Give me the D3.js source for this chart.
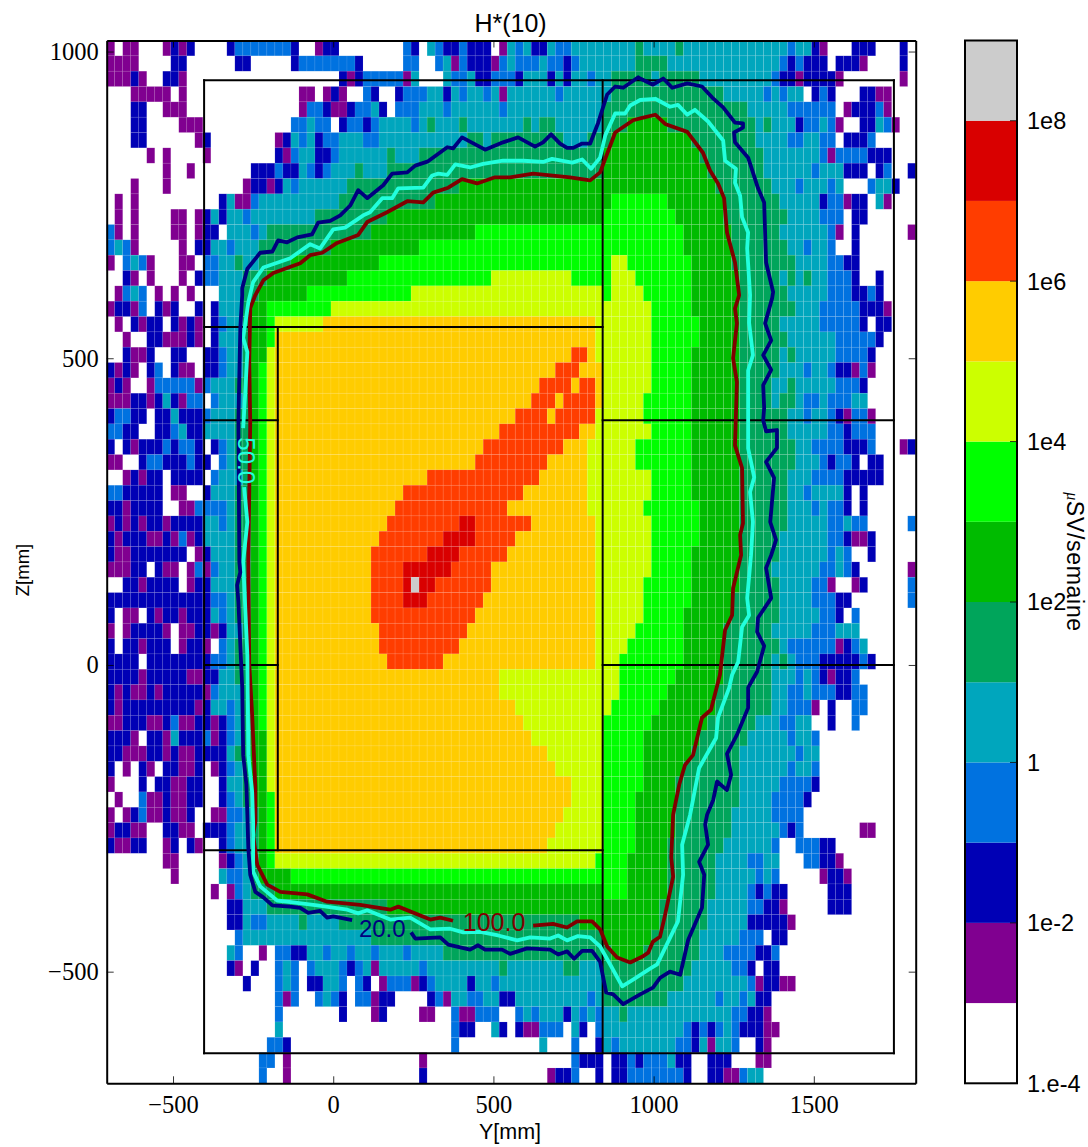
<!DOCTYPE html>
<html><head><meta charset="utf-8">
<style>html,body{margin:0;padding:0;background:#fff}svg{display:block}text{fill:#000}</style>
<script src="https://cdn.jsdelivr.net/npm/d3@7/dist/d3.min.js"></script></head><body>
<svg id="c" width="1088" height="1147"></svg>
<script>
// level codes: one decade per letter, from 1e-4 upwards
const levelCodes = ".pdbtsglyaorw";
const levelColors = ["#ffffff","#800090","#0000b5","#0072e0","#00a6bd","#00a55b","#00bb00","#00ff00","#ccff00","#ffcc00","#ff3d00","#d90000","#cccccc"];
const decadeEdges = [1e-3,1e-2,1e-1,1,1e1,1e2,1e3,1e4,1e5,1e6,1e7,1e8];
const colorbarTicks = [1e-4,1e-2,1,1e2,1e4,1e6,1e8];
const colorbarLabels = ["1.e-4","1e-2","1","1e2","1e4","1e6","1e8"];
const xTicks = [-500,0,500,1000,1500];
const yTicks = [-500,0,500,1000];
// run-length coded rows of the dose map, top row first, 25 mm bins
const doseRows = [
"p . 2p 3. p d p d 4. d 7b d 2. p 2d 8. b d . t b 2d b 3d . p t b t 2d t 2b 8t s 4t s 13t b 2t d p 3. 3d 3. d .",
"4p 4. 2d 6. 2d 5. d 7b d 5. 2b 2. b t p b 3d p b t 3b t 2b d b 7t 4s 14t b d b 3d . 3d p 4. d .",
"3p d p 2. 2d p 19. d p d 5b p t 3. t 2b t 2d 3b d 3t d t d 2t b 2t 5s t 5s 9t b 2d p 4d p 7. p .",
"3. 5p . p 14. 2p . p d p 2. b d 2. d 3b 2t d t b 2t b t p 6t b 6t 14s 5t b t b 2t . d b d 3. 2d 2p 3.",
"3. 2d 2. 3p 14. p 2b d 2p d 2b t d . 3b 3t b 6t b 12t 18s 5t 6b . p 3d b p 3.",
"3. 2d 4. 3p 11. 2b t 2b . d 2b d b 4t b t s 3t s 7t s t 2s 6t 3s 5g 11s t s 3t d 2b t b p 2. 2d t b p 2.",
"3. 2d 6. p d 8. p d t b t d 2b 3t 2b 11t 2s t 9s 3t 3s 10g 8s 4t 2b 2t 2b . 3d b 5.",
"5. p . p 4. p 8. d p b 2t 2d b 6t s 3t 23s 12g 8s 7t b p 4b 3d 3.",
"7. p 2. p 7. 3d b 2d t b d b 3t s 3t 27s 13g 7s 6t b 3t 3d . d b 2. d",
"3. p 3. p 9. p 2d p d t b 6t 14s 32g 7s 3t b 3t b t 3. b 2t d 2.",
". p . p 10. d t 2p b 10t 12s 22g 7l 7g 7s 5t d 2b p 2d . t p 3.",
". p . p 4. 2p . p d t d 2t b 8t 9s 27g 9l 6g 8s 4t 3b . 2d 6.",
"b p . p 4. 2p . p 2d . 3t b t 13s 13g 26l 6g 6s 6t b p . d 6. p",
"b t b p 5. p . 2d 2t b 3t 9s 11g 33l 6g 7s 2t b 2t b 2. d 7.",
"p . b t b p 3. 2p . 2b 2t s 2t 4s 11g 29l 2y 8l 5g 8s 4t 2b 2d 7.",
"2. d p . p 3. p . d 2b 3t 3s 10g 18l 10y 5l 3y 7l 6g 5s t s t s 2t 3b d 2. d 4.",
". p b t b . p . p . p 3. 3t 2s 6g 13l 24y l 4y 6l 6g 6s 5t 3b 2d b d 4.",
"p 2d p b . d p d 2. d . d 3t s 2g 8l 40y 5l 6g 7s 3t 5b 3d p 3.",
". p . d p 2d . d p d p . d b 2t s 2g l 6y 34a 7y 6l 5g 5s 5t 5b d . 2d 3.",
"2. p 2. 2d 3p d p . d 3t s 2g l 40a 7y 6l 5g 6s 6t 5b d 4.",
"2. d 2p d 2. 2d 2. 2d b 2t s 2g y 37a 2o a 7y 5l 6g 5s t s 5t 4b d 5.",
"d p d p . d b . d 2p . 2d b 2t s g l y 35a 3o 3a 6y 5l 6g 5s 3t b 2t b 2d p b p 5.",
"p d p 2. p 5b p b 3t 2s g l y 33a 4o a 2o a 6y 5l 6g 4s 2t s 5t 3b d 6.",
"3p 2d p d t d p 2b . b 3t s g l y 32a 3o a 4o a 5y 6l 6g 4s t 2s t 2b t 3b 2t 6.",
"d 2b 2d . 2d t 3d b 3t 2s g l y 30a 4o a 5o 6y 6l 6g 6s 2t b 2t b d p 2b p 5.",
"2b 2d 2. 2d b t 2d 4t 2s g l y 28a 10o 2a 7y 5l 6g 6s 5t 2b d 3b 5.",
"d . d p 3d b d 2b d . d b t 2s g l y 26a 10o 3a 6y 7l 6g 7s 2t 2b 2b 3d b 3. p d",
"2p 2. d 2b 3d b d d . b t 2s g l y 25a 9o 5a 6y 7l 6g 7s 3t b d 2b d . 2d 4.",
"2. p d p 2d . 4d . b 3t s g l y 19a 14o 6a 8y 5l 6g 6s 3t 4b 5d 4.",
"2b 5d . 2p 2. d 3t 2s g l y 16a 15o 8a 8y 5l 6g 6s 2t b 4t d . d 6.",
"2d p 4d 2. 2p 4b t 2s g l y 15a 14o 10a 7y 7l 5g 6s 3t b t 2b d . d 6.",
"p d p d p 2d p 4d 2t b t 2s g l y 14a 9o 2r 7o 8a 7y 6l 5g 6s 5t 2b t 2b 5. b",
"d p 3d 2p d p b p d 4t 2s g l y 13a 8o 4r 5o 10a 7y 6l 5g 5s 6t 2b d 2p d 5.",
"d 2p 7d . p d 3t 2s g l y 12a 7o 4r 6o 11a 7y 5l 6g 5s 6t b t b 2. d 5.",
"3p 2d . d 2p . p b p b 2t 2s g l y 12a 4o 6r 5o 13a 7y 5l 6g 4s 6t 2b t b d 6. p",
"2. 2d p 4d . p 2d 3t 2s g l y 12a 4o r w 2r 7o 13a 6y 6l 6g 5s 4t 2b p 2. p d 5. b",
"13d 2b t 2s g l y 12a 4o 3r 7o 14a 6y 6l 5g 6s 4t 3b 2d 7. b",
"d . 2p . d p 2d p 3d t b t 2s g l y 12a 13o 15a 6y 5l 6g 6s 5t 2b d . b 7.",
"p . p 4d p . 2p 2d p d 2t s g l y 13a 11o 16a 5y 6l 5g 6s 5t 3b 3t 7.",
"d . 2d p 3d . p 2d p . b t 2s g l y 13a 10o 17a 4y 7l 5g 7s t 6b p d b t 6.",
"4d . 8d 2b t 2s g l y 14a 7o 19a 3y 8l 5g 6s t s t 3b 5d b d 5.",
"4d p 5d 2p 2d 2t 2s g l y 28a 15y 7l 6g 6s 3t b t b d p 2d b 7.",
"d p d 2p d p 5d p b 3t s g l y 28a 15y 6l 6g 7s 2t 2b t 3b 2d 2b 6.",
"d p 9d p d 2t b t s g l y 30a 12y 6l 7g 7s 2t 3b p . d 2. 2b 6.",
"2p 3d 2p d b 2p 2d p d b t s g l y 31a 10y 6l 7g 6s 3t 2b 2t 2. d 2. b 7.",
"3d p . 2d p t 3d b p d b t s 2g y 32a 9y 5l 7g 6s 5t b 2t b 12.",
"2d 3p 2d p d 2p 4d t 2s 2g y 34a 7y 5l 6g 6s 7t b 2t 12.",
"d . p . d p . 2d 2p d . p d b t s 2g y 35a 6y 5l 5g 7s 6t b 2t b 12.",
"p 3. d . 2d 2p 2d 2. d 2t s 2g y 37a 4y 5l 4g 8s 5t 4b d 12.",
". p 2. b 2p d 2p 2d 2. d b t s 2g l 37a 4y 4l 5g 8s 4t 4b d 13.",
"p . p d b 2p d 2p d 2. 2p 2b t s g l 36a 5y 4l 5g 7s 5t 4b 14.",
"p 2d 2p 2. 2d 2p . 3d b 2t s g l 35a 6y 4l 5g 7s 6t b d b 7. 2p 5.",
"d 2p 2d 2. p d . d p 2. d b 2t s g l 34a 7y 4l 4g 7s 6t b 2. 3b 2d 10.",
"7. 2p 5. p d b t s g l 40y 4l 5g 6s 4t 2b 2t 3. 2b 2d p 9.",
"8. p 5. t 2b t s 4g 42l 5g 6s 5t b t b 5. p 2d p 8.",
"13. p . p b t 3s 41g 3l 5g 6s 4t b d b 2d 5. 3d 8.",
"15. 2d 3t 15s 34g 6s 5t 2b 2d p 5. 3d 8.",
"15. 2d t 2b 4t s 4t 30s 10g 6s 5t 5d p 15.",
"16. b 16t 29s 6g 6s 5t 3b . 2d 16.",
"15. t b 2. p . 2b 2d 2t b 2t b 2t b 3t b 4t 21s 4g 7s 3t 4b 2d b 17.",
"15. d p . d 2. b t b . b 3t b d b t p 5t b 9t s 7t 2s 3t 11s 5t 2b d . 2d 17.",
"17. d 3. b t b . 2d 2t b . b d . p 3b p d b 4t d 2t b 13t 10s 8t b p 2d 2p 15.",
"21. b p b 2. b t b d . 2b p 2d 4. d b p 2t 2b 2t 2d 9t b t 8s 6t b 2t b t 2d 18.",
"21. b 7. d 3. p d 4. 2p 2. b 2p 3b 2. b t b 3t d t b t b 2t s 13t 2b 2d p 18.",
"21. t 21. b 2d 2. t d . d 2p 3b . t d . b 10t b d b d b t b 3d 2p 17.",
"20. 2b d 20. b 10. t 3. b 2. d t b 7t 2b d t p 2t b 2. d p 18.",
"19. 2b . p 16. p 18. b 3d . 2d b d 3b t 2d 2. 3d 3. 2p 18.",
"19. b 2. p 16. d 15. p 2d b 2. d . 2d 7b d 2. 2d 2p b 2t 19."
];
// geometry frames, [Y1,Z1,Y2,Z2] in mm
const frameLines = [[-403,953,1750,953],[-403,-633,1750,-633],[-403,953,-403,-633],[1750,953,1750,-633],[841,953,841,-633],
[-403,551,841,551],[-173,551,-173,-302],[-403,-302,841,-302],[-403,399,-173,399],[841,399,1750,399],[-403,0,-173,0],[841,0,1750,0]];
const contour20 = [[59,-416],[0,-410],[-19,-412],[-41,-401],[-78,-404],[-103,-396],[-134,-394],[-190,-392],[-218,-379],[-243,-370],[-259,-342],[-265,-298],[-268,-244],[-271,-195],[-281,-147],[-284,-37],[-296,103],[-300,130],[-290,151],[-293,168],[-296,396],[-290,549],[-284,603],[-284,614],[-268,646],[-228,672],[-190,674],[-172,692],[-144,689],[-112,697],[-66,702],[-47,721],[-9,724],[22,733],[53,749],[78,774],[106,761],[156,782],[184,801],[231,803],[256,814],[296,821],[356,844],[374,842],[402,860],[474,840],[530,852],[577,860],[630,845],[655,852],[680,865],[708,850],[730,843],[749,843],[777,850],[802,850],[827,884],[855,930],[880,943],[905,941],[952,958],[958,956],[998,946],[1030,956],[1058,941],[1105,948],[1151,943],[1183,925],[1217,909],[1254,884],[1279,883],[1279,876],[1251,868],[1254,852],[1295,827],[1326,777],[1345,754],[1351,656],[1373,608],[1370,598],[1348,557],[1367,529],[1342,505],[1367,481],[1342,456],[1345,419],[1342,399],[1351,381],[1385,383],[1385,354],[1351,331],[1376,305],[1364,233],[1382,204],[1367,179],[1351,158],[1367,109],[1326,77],[1323,54],[1345,31],[1323,-11],[1295,-37],[1295,-70],[1260,-114],[1229,-145],[1242,-179],[1229,-204],[1198,-190],[1186,-220],[1167,-244],[1161,-260],[1170,-293],[1142,-321],[1158,-342],[1151,-396],[1108,-448],[1083,-505],[1051,-500],[1020,-510],[998,-526],[958,-537],[905,-553],[874,-537],[852,-534],[833,-484],[808,-466],[777,-466],[752,-479],[730,-467],[702,-472],[677,-464],[605,-462],[552,-471],[527,-464],[474,-464],[452,-457],[427,-464],[359,-456],[334,-444],[256,-446],[243,-436]];
const contour50 = [[-278,290],[-268,233],[-281,168],[-268,16],[-265,-147],[-253,-207],[-250,-256],[-250,-337],[-228,-361],[-175,-384],[-125,-387],[-50,-392],[44,-399],[78,-405],[106,-400],[178,-415],[240,-412],[303,-431],[365,-430],[406,-436],[459,-435],[515,-441],[574,-449],[615,-444],[677,-446],[702,-441],[730,-449],[764,-442],[802,-444],[833,-459],[864,-488],[902,-524],[936,-513],[989,-495],[1011,-488],[1076,-418],[1092,-342],[1089,-293],[1114,-244],[1142,-168],[1195,-119],[1201,-86],[1236,-37],[1245,-16],[1264,5],[1276,62],[1298,81],[1292,109],[1304,179],[1310,233],[1301,282],[1314,306],[1295,353],[1295,480],[1310,505],[1298,558],[1301,603],[1292,679],[1295,705],[1276,730],[1270,765],[1254,786],[1257,809],[1223,822],[1217,855],[1170,886],[1129,905],[1105,897],[1076,913],[1051,910],[1005,923],[958,921],[927,912],[911,899],[880,899],[849,863],[833,827],[805,809],[777,824],[746,819],[683,825],[655,820],[593,822],[530,822],[468,817],[427,811],[381,816],[356,799],[328,801],[309,798],[281,778],[203,777],[184,761],[153,761],[115,738],[94,733],[37,713],[0,710],[-41,679],[-72,686],[-134,663],[-218,648],[-250,624],[-265,591],[-281,533],[-268,510],[-275,440],[-281,386]];
const contour100 = [[624,-425],[686,-422],[730,-428],[761,-418],[808,-418],[833,-431],[855,-459],[886,-477],[927,-485],[967,-475],[983,-469],[998,-451],[1020,-443],[1036,-407],[1061,-345],[1055,-314],[1061,-244],[1080,-195],[1098,-163],[1123,-147],[1151,-86],[1179,-73],[1207,-16],[1223,57],[1245,81],[1248,125],[1273,179],[1270,212],[1279,231],[1276,321],[1254,358],[1260,461],[1248,500],[1260,557],[1254,581],[1267,603],[1254,656],[1229,705],[1220,761],[1201,785],[1176,806],[1154,835],[1105,869],[1036,882],[1005,897],[958,891],[936,888],[880,868],[833,803],[802,790],[739,795],[624,801],[552,795],[505,795],[449,785],[402,792],[359,778],[312,770],[281,754],[231,756],[168,738],[106,722],[78,701],[12,688],[-34,672],[-72,668],[-103,655],[-187,639],[-218,627],[-243,603],[-259,582],[-262,494],[-259,396],[-265,168],[-262,0],[-253,-81],[-243,-200],[-243,-256],[-250,-277],[-237,-326],[-206,-358],[-165,-370],[-81,-374],[-19,-386],[84,-391],[178,-399],[203,-394],[303,-415],[334,-412],[374,-417]];
const contourStyles = [[contour100,"#800000"],[contour50,"#22ffdd"],[contour20,"#00007f"]];

const svg = d3.select("#c");
const binSize = 25, yStart = -707, zTop = 1018;
const x = d3.scaleLinear().domain([yStart, yStart + 101*binSize]).range([106.7,915.7]);
const y = d3.scaleLinear().domain([zTop - 68*binSize, zTop]).range([1083.3,40.5]);
const color = d3.scaleThreshold().domain(decadeEdges).range(levelColors);
const decode = s => { const out=[]; for (const m of s.matchAll(/(\d*)([a-z.])/g)) { const n=+(m[1]||1); for(let i=0;i<n;i++) out.push(levelCodes.indexOf(m[2])); } return out; };
const cells = [];
doseRows.forEach((s,r)=>decode(s).slice(0,101).forEach((k,c)=>{ if(k>0) cells.push({r,c,v:Math.pow(10,k-3.5)}); }));
svg.append("g").selectAll("rect").data(cells).join("rect")
  .attr("x",d=>x(yStart+d.c*binSize)).attr("y",d=>y(zTop-d.r*binSize))
  .attr("width",x(binSize)-x(0)).attr("height",y(0)-y(binSize))
  .attr("fill",d=>color(d.v)).attr("stroke","#fff").attr("stroke-opacity",.14).attr("stroke-width",.6);

svg.append("g").selectAll("line").data(frameLines).join("line")
  .attr("x1",d=>x(d[0])).attr("y1",d=>y(d[1])).attr("x2",d=>x(d[2])).attr("y2",d=>y(d[3]))
  .attr("stroke","#000").attr("stroke-width",2).attr("stroke-linecap","square");

const line = d3.line().x(d=>x(d[0])).y(d=>y(d[1]));
svg.append("g").selectAll("path").data(contourStyles).join("path")
  .attr("d",d=>line(d[0])).attr("fill","none").attr("stroke",d=>d[1]).attr("stroke-width",3.8).attr("stroke-linejoin","round");

svg.append("text").attr("x",x(153)).attr("y",y(-430)).attr("dy","0.35em").attr("text-anchor","middle")
  .attr("font-family","Liberation Sans").attr("font-size",24).style("fill","#00007f").text("20.0");
svg.append("text").attr("x",x(502)).attr("y",y(-420)).attr("dy","0.35em").attr("text-anchor","middle")
  .attr("font-family","Liberation Sans").attr("font-size",25).style("fill","#800000").text("100.0");
svg.append("text").attr("transform",`translate(${x(-270)},${y(333)}) rotate(90)`).attr("dy","0.35em").attr("text-anchor","middle")
  .attr("font-family","Liberation Sans").attr("font-size",24).style("fill","#22ffdd").text("50.0");

// axes
const minus = d => (d<0?"\u2212":"")+Math.abs(d);
const styleAxis = g => { g.select(".domain").attr("stroke","#000").attr("stroke-width",2);
  g.selectAll(".tick line").attr("stroke","#000").attr("stroke-width",.8);
  g.selectAll("text").attr("font-family","Liberation Serif").attr("font-size",24.5); };
const x0=x.range()[0], x1=x.range()[1], y0=y.range()[1], y1=y.range()[0];
svg.append("g").attr("transform",`translate(0,${y1})`).call(d3.axisBottom(x).tickValues(xTicks).tickFormat(minus).tickSizeInner(-7).tickSizeOuter(0).tickPadding(12)).call(styleAxis);
svg.append("g").attr("transform",`translate(0,${y0})`).call(d3.axisTop(x).tickValues(xTicks).tickFormat("").tickSizeInner(-7).tickSizeOuter(0)).call(styleAxis);
svg.append("g").attr("transform",`translate(${x0},0)`).call(d3.axisLeft(y).tickValues(yTicks).tickFormat(minus).tickSizeInner(-7).tickSizeOuter(0).tickPadding(8)).call(styleAxis);
svg.append("g").attr("transform",`translate(${x1},0)`).call(d3.axisRight(y).tickValues(yTicks).tickFormat("").tickSizeInner(-7).tickSizeOuter(0)).call(styleAxis);

svg.append("text").attr("x",510.5).attr("y",32).attr("text-anchor","middle").attr("font-family","Liberation Sans").attr("font-size",25).text("H*(10)");
svg.append("text").attr("x",510).attr("y",1139).attr("text-anchor","middle").attr("font-family","Liberation Sans").attr("font-size",21.5).text("Y[mm]");
svg.append("text").attr("transform","translate(29,570) rotate(-90)").attr("text-anchor","middle").attr("font-family","Liberation Sans").attr("font-size",18.5).text("Z[mm]");

// colorbar
const cb = d3.scaleLog().domain([1e-4,1e9]).range([1083.3,40.5]);
const cbEdges = [1e-4,...decadeEdges,1e9];
svg.append("g").selectAll("rect").data(levelColors).join("rect")
  .attr("x",965).attr("width",52).attr("y",(d,i)=>cb(cbEdges[i+1])).attr("height",(d,i)=>cb(cbEdges[i])-cb(cbEdges[i+1])).attr("fill",d=>d);
svg.append("rect").attr("x",965).attr("y",40.5).attr("width",52).attr("height",1042.8).attr("fill","none").attr("stroke","#000").attr("stroke-width",2);
svg.append("g").selectAll("line").data(colorbarTicks).join("line").attr("x1",1010).attr("x2",1017).attr("y1",d=>cb(d)).attr("y2",d=>cb(d)).attr("stroke","#000").attr("stroke-width",.8);
svg.append("g").selectAll("text").data(colorbarTicks).join("text").attr("x",1027).attr("y",d=>cb(d)).attr("dy","0.36em")
  .attr("font-family","Liberation Sans").attr("font-size",23.5).text((d,i)=>colorbarLabels[i]);
const ul = svg.append("text").attr("transform","translate(1067,562) rotate(90)").attr("text-anchor","middle").attr("font-family","Liberation Sans").attr("font-size",23).attr("letter-spacing",.7);
ul.append("tspan").attr("font-family","Liberation Serif").attr("font-style","italic").attr("font-size",16).text("\u03bc");
ul.append("tspan").text("SV/semaine");
</script></body></html>
